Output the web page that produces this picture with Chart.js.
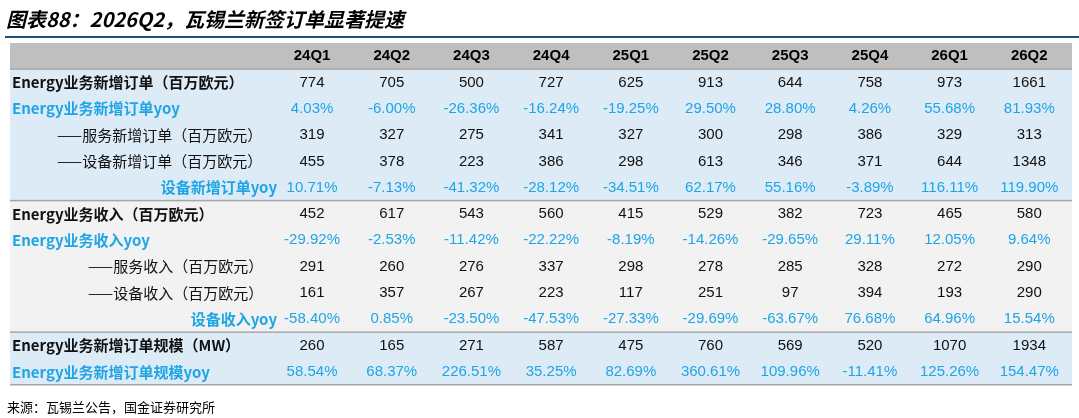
<!DOCTYPE html><html><head><meta charset="utf-8">
<script src="https://cdn.jsdelivr.net/npm/chart.js@4"></script>
<style>body{margin:0;background:#fff}#w{width:1079px;height:418px}</style></head><body><div id="w"><canvas id="c"></canvas></div>
<script>
const quarters=['24Q1','24Q2','24Q3','24Q4','25Q1','25Q2','25Q3','25Q4','26Q1','26Q2'];
const rowLabels=['Energy业务新增订单（百万欧元）','Energy业务新增订单yoy','——服务新增订单（百万欧元）','——设备新增订单（百万欧元）','设备新增订单yoy','Energy业务收入（百万欧元）','Energy业务收入yoy','——服务收入（百万欧元）','——设备收入（百万欧元）','设备收入yoy','Energy业务新增订单规模（MW）','Energy业务新增订单规模yoy'];
const ordersTotal=['774','705','500','727','625','913','644','758','973','1661'];
const ordersYoy=['4.03%','-6.00%','-26.36%','-16.24%','-19.25%','29.50%','28.80%','4.26%','55.68%','81.93%'];
const ordersService=['319','327','275','341','327','300','298','386','329','313'];
const ordersEquip=['455','378','223','386','298','613','346','371','644','1348'];
const ordersEquipYoy=['10.71%','-7.13%','-41.32%','-28.12%','-34.51%','62.17%','55.16%','-3.89%','116.11%','119.90%'];
const revTotal=['452','617','543','560','415','529','382','723','465','580'];
const revYoy=['-29.92%','-2.53%','-11.42%','-22.22%','-8.19%','-14.26%','-29.65%','29.11%','12.05%','9.64%'];
const revService=['291','260','276','337','298','278','285','328','272','290'];
const revEquip=['161','357','267','223','117','251','97','394','193','290'];
const revEquipYoy=['-58.40%','0.85%','-23.50%','-47.53%','-27.33%','-29.69%','-63.67%','76.68%','64.96%','15.54%'];
const mw=['260','165','271','587','475','760','569','520','1070','1934'];
const mwYoy=['58.54%','68.37%','226.51%','35.25%','82.69%','360.61%','109.96%','-11.41%','125.26%','154.47%'];
const rows=[ordersTotal,ordersYoy,ordersService,ordersEquip,ordersEquipYoy,revTotal,revYoy,revService,revEquip,revEquipYoy,mw,mwYoy];
const isYoy=[0,1,0,0,1,0,1,0,0,1,0,1];
const isSub=[0,0,1,1,0,0,0,1,1,0,0,0];
const BLUE='#1ea5e6';
const labelPos=[['l',12],['l',12],['l',57],['l',57],['r',277],['l',12],['l',12],['l',88],['l',88],['r',277],['l',12],['l',12]];
const groups=[[0,4,'#ddebf7'],[5,9,'#f2f2f2'],[10,11,'#ddebf7']];
const table={id:'table',beforeDatasetsDraw(ch){
  const c=ch.ctx,x=ch.scales.x,y=ch.scales.y,L=ch.chartArea.left,R=ch.chartArea.right;
  c.save();
  c.fillStyle='#000';c.font='italic bold 20px "Noto Sans CJK SC"';c.textBaseline='middle';c.textAlign='left';
  c.fillText('图表88：2026Q2，瓦锡兰新签订单显著提速',6,19);
  c.fillStyle='#1f4e79';c.fillRect(5,36,1074,2);
  c.fillStyle='#bfbfbf';c.fillRect(L,y.getPixelForValue(-0.5),R-L,y.getPixelForValue(0.5)-y.getPixelForValue(-0.5));
  groups.forEach(g=>{const t=y.getPixelForValue(g[0]+0.5),b=y.getPixelForValue(g[1]+1.5);c.fillStyle=g[2];c.fillRect(L,t,R-L,b-t);
    c.fillStyle='#a6a6a6';c.fillRect(L,t-1,R-L,1.5);});
  c.fillStyle='#a6a6a6';c.fillRect(L,y.getPixelForValue(12.5)-1,R-L,1.5);
  c.fillStyle='#000';c.font='bold 15px "Liberation Sans"';c.textAlign='center';
  quarters.forEach((q,i)=>c.fillText(q,x.getPixelForValue(i),y.getPixelForValue(0)));
  rows.forEach((r,ri)=>{const py=y.getPixelForValue(ri+1);
    c.fillStyle=isYoy[ri]?BLUE:'#111';c.font=(isSub[ri]?'':'bold ')+'15px "Noto Sans CJK SC"';
    const p=labelPos[ri];c.textAlign=p[0]==='l'?'left':'right';c.fillText(rowLabels[ri],p[1],py);
    c.font='15px "Liberation Sans"';c.textAlign='center';
    r.forEach((v,i)=>c.fillText(v,x.getPixelForValue(i),py));
  });
  c.fillStyle='#000';c.font='13px "Noto Sans CJK SC"';c.textAlign='left';
  c.fillText('来源：瓦锡兰公告，国金证券研究所',7,407);
  c.restore();
}};
new Chart(document.getElementById('c'),{type:'scatter',data:{datasets:[{data:[]}]},
 options:{responsive:true,maintainAspectRatio:false,animation:false,
  layout:{padding:{left:10,right:7,top:43,bottom:33}},
  plugins:{legend:{display:false},tooltip:{enabled:false}},
  scales:{x:{type:'linear',min:-3.79,max:9.536,display:false},y:{type:'linear',min:-0.5,max:12.5,reverse:true,display:false}}},
 plugins:[table]});
</script></body></html>
